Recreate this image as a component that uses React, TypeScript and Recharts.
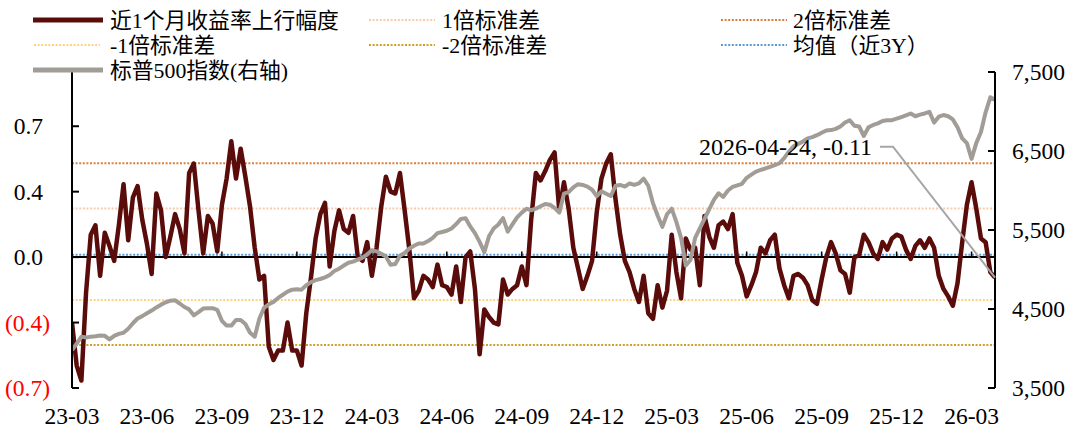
import React from 'react';
import { LineChart, Line, XAxis, YAxis, ReferenceLine, ReferenceDot } from 'recharts';

// ---------- data ----------
const quarterLabels = ['23-03','23-06','23-09','23-12','24-03','24-06','24-09','24-12','25-03','25-06','25-09','25-12','26-03'];
const pointsPerQuarter = 16;
const lastDate = '2026-04-24';

// 近1个月收益率上行幅度 (left axis)
const returnUp = [
  -0.35,-0.58,-0.66,-0.19,0.12,0.17,-0.10,0.13,0.06,-0.02,
  0.17,0.39,0.09,0.32,0.38,0.20,0.07,-0.09,0.34,0.25,
  0.00,0.11,0.23,0.15,0.02,0.45,0.50,0.25,0.02,0.22,
  0.18,0.03,0.28,0.42,0.62,0.42,0.58,0.43,0.27,0.05,
  -0.12,-0.10,-0.48,-0.55,-0.50,-0.50,-0.35,-0.50,-0.50,-0.58,
  -0.30,-0.11,0.10,0.23,0.29,-0.05,0.14,0.25,0.15,0.13,
  0.22,0.00,-0.02,0.08,-0.10,0.05,0.27,0.43,0.35,0.34,
  0.45,0.25,0.04,-0.22,-0.18,-0.10,-0.12,-0.16,-0.04,-0.15,
  -0.16,-0.20,-0.05,-0.24,0.00,0.03,-0.17,-0.52,-0.28,-0.32,
  -0.35,-0.36,-0.12,-0.20,-0.17,-0.15,-0.05,-0.15,0.20,0.45,
  0.41,0.46,0.52,0.56,0.25,0.40,0.26,0.05,-0.06,-0.17,
  -0.10,-0.02,0.24,0.42,0.50,0.55,0.31,0.12,-0.02,-0.08,
  -0.17,-0.24,-0.10,-0.30,-0.33,-0.15,-0.27,-0.18,0.12,-0.08,
  -0.22,0.10,0.04,0.05,-0.15,0.22,0.11,0.05,0.17,0.19,
  0.15,0.23,-0.03,-0.10,-0.21,-0.15,-0.08,0.05,0.02,0.09,
  0.12,-0.06,-0.15,-0.22,-0.10,-0.09,-0.11,-0.15,-0.23,-0.25,
  -0.12,0.00,0.08,0.02,-0.07,-0.09,-0.19,0.00,0.01,0.12,
  0.08,0.02,-0.01,0.08,0.04,0.10,0.12,0.11,0.04,-0.01,
  0.06,0.09,0.05,0.10,0.05,-0.10,-0.17,-0.21,-0.26,-0.14,
  0.08,0.28,0.40,0.26,0.10,0.08,-0.08,-0.11
];

// 标普500指数 (right axis)
const spx = [
  3981,4060,4150,4140,4150,4155,4165,4160,4115,4160,
  4185,4200,4250,4320,4380,4410,4445,4480,4520,4555,
  4585,4605,4610,4570,4525,4495,4420,4460,4505,4510,
  4510,4490,4350,4290,4290,4360,4360,4310,4200,4150,
  4380,4515,4560,4590,4640,4680,4720,4745,4750,4745,
  4800,4840,4865,4880,4900,4930,4980,5010,5050,5085,
  5100,5125,5150,5190,5245,5230,5200,5165,5060,5070,
  5175,5210,5265,5300,5330,5330,5360,5400,5460,5475,
  5490,5520,5575,5640,5650,5545,5460,5350,5220,5420,
  5520,5570,5650,5480,5570,5660,5720,5770,5750,5770,
  5800,5830,5820,5780,5720,5960,5980,6040,6080,6070,
  6050,6010,5930,5990,5960,5930,6060,6070,6050,6090,
  6070,6090,6150,6060,5840,5680,5540,5700,5770,5600,
  5400,5050,5120,5400,5520,5640,5760,5880,5965,5920,
  6000,6045,6065,6085,6160,6200,6240,6260,6280,6300,
  6320,6345,6410,6490,6560,6590,6620,6660,6675,6700,
  6730,6760,6765,6780,6810,6860,6890,6820,6810,6690,
  6800,6830,6850,6880,6890,6890,6910,6930,6950,6975,
  6940,6960,6975,6995,6860,6935,6955,6940,6900,6800,
  6660,6600,6400,6600,6740,6990,7180,7150
];

const bandNames = ['1倍标准差','2倍标准差','-1倍标准差','-2倍标准差','均值（近3Y）'];
const bandValues = [0.26, 0.502, -0.229, -0.47, 0.013];
const bandColors = ['#F8CBAD','#D9803E','#FFD27F','#C9A227','#5B9BD5'];

const leftTicks = [-0.7, -0.35, 0, 0.35, 0.7];
const rightTicks = [3500, 4500, 5500, 6500, 7500];

// ---------- style ----------
const W = 1080, H = 436;
const PLOT_L = 72, PLOT_R = 995, PLOT_T = 72, PLOT_B = 388;
const SERIF = "'Liberation Serif','Times New Roman','Noto Sans CJK SC',serif";
const FS = 23.5;
const LFS = 21.8;
const MAROON = '#5A0C0A';
const GRAY = '#A29C96';

const data = returnUp.map((r, i) => ({ i, r, spx: spx[i] }));

const fmtLeft = (v: number) => {
  const a = (Math.round(Math.abs(v) * 10 + 1e-9) / 10).toFixed(1);
  return v < -1e-9 ? `(${a})` : a;
};

const LeftTick = (props: any) => {
  const { y, payload } = props;
  const v = payload.value as number;
  const neg = v < -1e-9;
  return (
    <g>
      <line x1={PLOT_L} x2={PLOT_L + 7} y1={y} y2={y} stroke="#000" strokeWidth={2} />
      <text x={neg ? 50 : 43} y={y} dy="0.34em" textAnchor="end" fill={neg ? '#FF0000' : '#000'}
        fontSize={FS} fontFamily={SERIF}>{fmtLeft(v)}</text>
    </g>
  );
};

const RightTick = (props: any) => {
  const { y, payload } = props;
  const v = payload.value as number;
  return (
    <g>
      <line x1={PLOT_R - 7} x2={PLOT_R} y1={y} y2={y} stroke="#000" strokeWidth={2} />
      <text x={1012} y={y} dy="0.34em" textAnchor="start" fill="#000"
        fontSize={FS} fontFamily={SERIF}>{v.toLocaleString('en-US')}</text>
    </g>
  );
};

const BottomTick = (props: any) => {
  const { x, payload } = props;
  const k = Math.round(payload.value / pointsPerQuarter);
  return (
    <text x={x} y={424} textAnchor="middle" fill="#000" fontSize={FS} fontFamily={SERIF}>
      {quarterLabels[k]}
    </text>
  );
};

const EndLabel = (props: any) => {
  const { cx, cy } = props;
  if (cx == null || cy == null) return <g />;
  const ey = cy - 131;
  return (
    <g>
      <polyline points={`${cx},${cy} ${cx - 102},${ey} ${cx - 115},${ey}`} fill="none" stroke="#A6A6A6" strokeWidth={2} />
      <text x={cx - 123} y={ey} dy="0.34em" textAnchor="end" fill="#000" fontSize={24} fontFamily={SERIF}>
        {`${lastDate}, ${returnUp[returnUp.length - 1].toFixed(2)}`}
      </text>
    </g>
  );
};

type LegendItem = { label: string; color: string; solid: boolean; col: number; row: number };
const legendItems: LegendItem[] = [
  { label: '近1个月收益率上行幅度', color: MAROON, solid: true, col: 0, row: 0 },
  { label: bandNames[0], color: bandColors[0], solid: false, col: 1, row: 0 },
  { label: bandNames[1], color: bandColors[1], solid: false, col: 2, row: 0 },
  { label: bandNames[2], color: bandColors[2], solid: false, col: 0, row: 1 },
  { label: bandNames[3], color: bandColors[3], solid: false, col: 1, row: 1 },
  { label: bandNames[4], color: bandColors[4], solid: false, col: 2, row: 1 },
  { label: '标普500指数(右轴)', color: GRAY, solid: true, col: 0, row: 2 },
];
const colSampleX = [33, 368, 720];
const colTextX = [110, 442, 793];
const rowY = [20, 45, 70];

const Legend = () => (
  <svg width={W} height={90} style={{ position: 'absolute', left: 0, top: 0, pointerEvents: 'none' }}>
    {legendItems.map((it, idx) => {
      const y = rowY[it.row];
      const x0 = colSampleX[it.col];
      return (
        <g key={idx}>
          {it.solid ? (
            <line x1={x0} x2={x0 + 70} y1={y} y2={y} stroke={it.color} strokeWidth={5} />
          ) : (
            <line x1={x0 + 1} x2={x0 + 67} y1={y} y2={y} stroke={it.color} strokeWidth={2} strokeDasharray="2 1.6" />
          )}
          <text x={colTextX[it.col]} y={y} dy="0.36em" fontSize={LFS} fontFamily={SERIF} fill="#000">{it.label}</text>
        </g>
      );
    })}
  </svg>
);

export default function App() {
  const n = data.length;
  const xTicks = quarterLabels.map((_, k) => k * pointsPerQuarter);
  return (
    <div style={{ position: 'absolute', left: 0, top: 0, width: W, height: H, background: '#fff' }}>
      <LineChart width={W} height={H} data={data} margin={{ top: PLOT_T, right: 0, bottom: 0, left: 0 }}>
        <XAxis xAxisId="x" type="number" dataKey="i" domain={[0, n - 1]} ticks={xTicks} interval={0}
          axisLine={false} tickLine={false} height={H - PLOT_B} tick={<BottomTick />} allowDataOverflow />
        <YAxis yAxisId="left" orientation="left" width={PLOT_L} domain={[-0.7, 0.99]} ticks={leftTicks}
          interval={0} allowDataOverflow axisLine={{ stroke: '#000', strokeWidth: 2 }} tickLine={false}
          tick={<LeftTick />} />
        <YAxis yAxisId="right" orientation="right" width={W - PLOT_R} domain={[3500, 7500]} ticks={rightTicks}
          interval={0} allowDataOverflow axisLine={{ stroke: '#000', strokeWidth: 2 }} tickLine={false}
          tick={<RightTick />} />
        {bandValues.map((v, k) => (
          <ReferenceLine key={k} xAxisId="x" yAxisId="left" y={v} stroke={bandColors[k]} strokeWidth={2}
            strokeDasharray="2 1.6" ifOverflow="extendDomain" />
        ))}
        <ReferenceLine xAxisId="x" yAxisId="left" y={0} stroke="#000" strokeWidth={2} />
        {xTicks.map((t) => (
          <ReferenceLine key={`t${t}`} xAxisId="x" yAxisId="left" segment={[{ x: t, y: 0 }, { x: t, y: 0.03 }]}
            stroke="#000" strokeWidth={1.5} />
        ))}
        <Line xAxisId="x" yAxisId="left" type="linear" dataKey="r" stroke={MAROON} strokeWidth={4.5}
          dot={false} activeDot={false} isAnimationActive={false} strokeLinejoin="round" />
        <Line xAxisId="x" yAxisId="right" type="linear" dataKey="spx" stroke={GRAY} strokeWidth={4}
          dot={false} activeDot={false} isAnimationActive={false} strokeLinejoin="round" />
        <ReferenceDot xAxisId="x" yAxisId="left" x={n - 1} y={returnUp[n - 1]} r={1}
          shape={(p: any) => <EndLabel {...p} />} ifOverflow="visible" />
      </LineChart>
      <Legend />
    </div>
  );
}
